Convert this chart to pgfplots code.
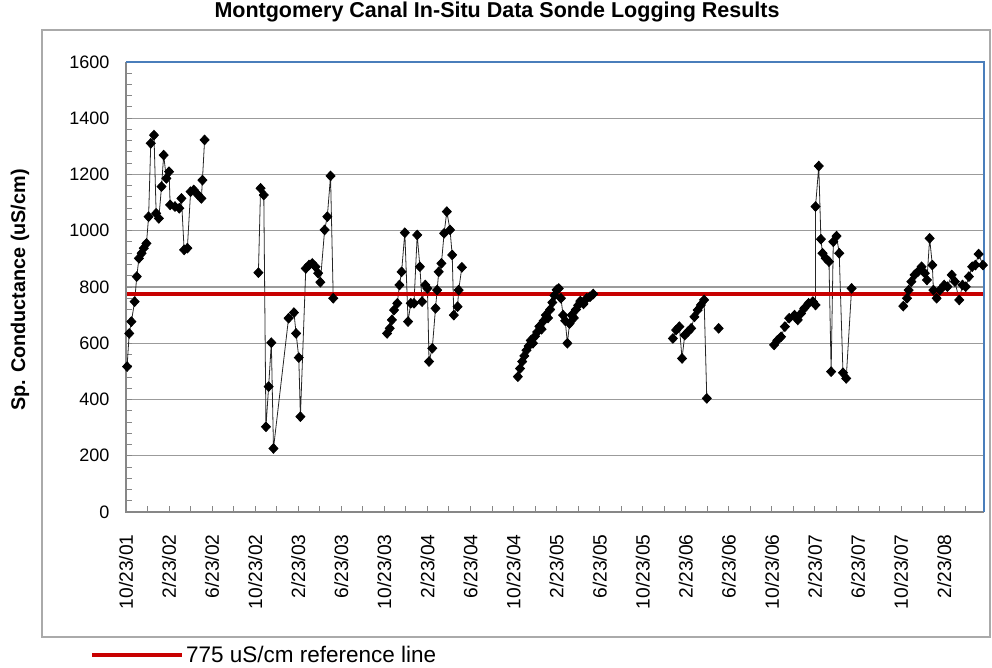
\documentclass[border=0pt]{standalone}
\usepackage{fontspec}
\setmainfont{Liberation Sans}
\usepackage{pgfplots}
\pgfplotsset{compat=1.18}
\usepackage{pgfplotstable}
\definecolor{gridgray}{RGB}{155,155,155}
\definecolor{axisgray}{RGB}{135,135,135}
\definecolor{bordblue}{RGB}{74,126,187}
\definecolor{refred}{RGB}{200,0,0}
\definecolor{framegray}{RGB}{170,170,170}

\pgfplotstableread{
x y
0.1 517
0.3 635
0.5 677
0.8 748
1.0 837
1.2 902
1.45 920
1.65 938
1.9 955
2.1 1050
2.3 1311
2.6 1340
2.8 1062
3.05 1044
3.3 1157
3.5 1269
3.75 1186
4.0 1210
4.1 1092
4.55 1086
4.95 1080
5.15 1115
5.4 932
5.7 938
6.0 1139
6.3 1145
6.7 1127
7.0 1115
7.1 1180
7.3 1323
nan nan
12.3 851
12.5 1151
12.8 1127
13.0 303
13.25 446
13.5 602
13.7 226
15.1 689
15.6 709
15.8 635
16.05 549
16.2 339
16.7 866
17.0 878
17.3 884
17.6 872
17.85 849
18.05 817
18.45 1003
18.7 1050
19.0 1195
19.25 760
nan nan
24.25 635
24.5 653
24.7 683
24.9 718
25.2 742
25.4 807
25.6 854
25.9 993
26.2 677
26.45 742
26.75 742
27.05 985
27.3 872
27.5 748
27.8 807
28.0 795
28.15 535
28.45 582
28.75 724
28.9 789
29.05 854
29.3 884
29.55 991
29.8 1068
30.1 1003
30.3 914
30.45 700
30.8 730
30.9 789
31.2 870
nan nan
36.4 481
36.6 510
36.8 535
37.0 555
37.2 575
37.4 590
37.6 610
37.8 600
38.0 625
38.2 640
38.4 660
38.6 650
38.8 680
39.0 700
39.2 690
39.4 720
39.6 745
39.8 770
40.0 790
40.2 795
40.4 760
40.6 700
40.8 680
41.0 600
41.2 670
41.4 700
41.6 690
41.8 720
42.0 735
42.2 750
42.5 740
42.8 760
43.1 765
43.4 775
nan nan
50.8 617
51.1 647
51.4 659
51.65 546
51.9 629
52.2 641
52.5 653
52.8 694
53.1 718
53.4 736
53.7 754
53.95 404
nan nan
55.05 653
nan nan
60.2 594
60.5 610
60.85 623
61.2 659
61.6 689
62.1 700
62.4 683
62.7 706
63.0 724
63.4 742
63.8 748
64.05 736
64.05 1086
64.35 1230
64.55 970
64.7 920
65.0 902
65.3 890
65.5 499
65.7 961
66.0 981
66.25 920
66.6 495
66.9 475
67.4 795
nan nan
72.2 732
72.55 760
72.7 789
72.95 819
73.25 843
73.55 854
73.9 872
74.2 849
74.4 825
74.65 973
74.9 878
75.0 789
75.3 760
75.6 789
76.0 807
76.3 801
76.7 843
77.0 819
77.4 754
77.7 807
78.0 801
78.3 837
78.6 872
78.9 878
79.2 917
79.6 878
}\sondedata

\begin{document}
\begin{tikzpicture}
\begin{axis}[
  at={(126pt,155pt)}, anchor=south west,
  scale only axis, width=858pt, height=450pt,
  xmin=0, xmax=79.7, ymin=0, ymax=1600,
  clip=false,
  unbounded coords=jump,
  xtick={0,4,...,76},
  xticklabels={10/23/01,2/23/02,6/23/02,10/23/02,2/23/03,6/23/03,10/23/03,2/23/04,6/23/04,10/23/04,2/23/05,6/23/05,10/23/05,2/23/06,6/23/06,10/23/06,2/23/07,6/23/07,10/23/07,2/23/08},
  minor xtick={2,6,...,78},
  ytick={0,200,...,1600},
  minor y tick num=4,
  tick align=inside,
  xtick pos=bottom, ytick pos=left,
  major tick length=6pt, minor tick length=6pt,
  every tick/.style={axisgray, line width=1pt},
  every minor tick/.style={axisgray, line width=1pt},
  ymajorgrids,
  major grid style={gridgray, line width=1.2pt},
  axis line style={draw=none},
  /pgf/number format/assume math mode=true,
  /pgf/number format/1000 sep={},
  yticklabel style={font=\fontsize{18}{20}\selectfont},
  xticklabel style={font=\fontsize{19.2}{21}\selectfont, rotate=90, anchor=east},
  xticklabel shift=19pt,
  yticklabel shift=13pt,
  every axis title shift=0pt,
  title={Montgomery Canal In-Situ Data Sonde Logging Results},
  title style={font=\bfseries\fontsize{21.5}{24}\selectfont, at={(axis description cs:0.4324,1.111)}, anchor=center},
  ylabel={Sp. Conductance (uS/cm)},
  ylabel style={font=\bfseries\fontsize{19.8}{22}\selectfont, at={(axis description cs:-0.1235,0.493)}, anchor=center},
  legend style={at={(axis description cs:-0.042,-0.318)}, anchor=west, draw=none, fill=none,
    font=\fontsize{22.5}{24}\selectfont, inner sep=0pt},
  legend image code/.code={\draw[#1] (0pt,0pt) -- (90pt,0pt);},
]
\addplot[black!85, line width=0.8pt, mark=diamond*, mark size=4.8pt,
  mark options={xscale=1.25, fill=black, draw=black}, forget plot] table[x=x, y=y] {\sondedata};
\addplot[refred, line width=4pt] coordinates {(0,775) (79.7,775)};
\addlegendentry{775 uS/cm reference line}
\draw[axisgray, line width=1.2pt] (rel axis cs:0,1) -- (rel axis cs:0,0) -- (rel axis cs:1,0);
\draw[bordblue, line width=1.5pt] (rel axis cs:0,1) -- (rel axis cs:1,1) -- (rel axis cs:1,0);
\end{axis}
\draw[framegray, line width=1.5pt] (42pt,30pt) rectangle (990pt,637pt);
\pgfresetboundingbox
\path[use as bounding box] (0pt,0pt) rectangle (992pt,667pt);
\end{tikzpicture}
\end{document}
